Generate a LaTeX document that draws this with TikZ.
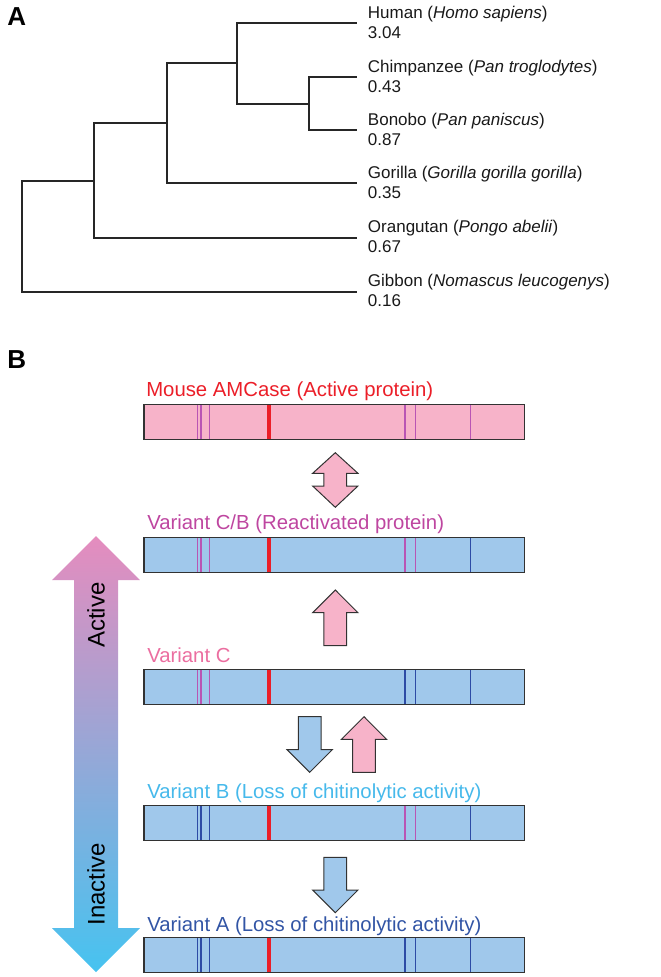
\documentclass[tikz,border=0pt]{standalone}
\usepackage{fontspec}
\setmainfont{Liberation Sans}
\usetikzlibrary{calc}
\definecolor{boxpink}{RGB}{247,179,201}
\definecolor{boxblue}{RGB}{160,200,235}
\definecolor{edge}{RGB}{50,50,50}
\definecolor{mkpurple}{RGB}{185,85,180}
\definecolor{mkblue}{RGB}{45,75,165}
\definecolor{mkred}{RGB}{235,30,40}
\definecolor{txtred}{RGB}{235,30,40}
\definecolor{txtcb}{RGB}{190,70,160}
\definecolor{txtc}{RGB}{235,110,160}
\definecolor{txtb}{RGB}{70,185,235}
\definecolor{txta}{RGB}{50,85,165}
\definecolor{gtop}{RGB}{229,140,190}
\definecolor{gmid}{RGB}{178,170,214}
\definecolor{gbot}{RGB}{70,195,240}
\newcommand\bandmarks[4]{%
  \foreach \p in {53.7,56.9,65.3}{\draw[mk,#2] ($(#1.north west)+(\p,0.6)$) -- ($(#1.south west)+(\p,-0.6)$);}
  \draw[mk,mkred,line width=3pt] ($(#1.north west)+(125,0.6)$) -- ($(#1.south west)+(125,-0.6)$);
  \foreach \p in {261,271.7}{\draw[mk,#3] ($(#1.north west)+(\p,0.6)$) -- ($(#1.south west)+(\p,-0.6)$);}
  \draw[mk,#4] ($(#1.north west)+(326.7,0.6)$) -- ($(#1.south west)+(326.7,-0.6)$);}
\newcommand\uparr[4]{\draw[#4] (#1,#2) -- ++(22.65,22.7) -- ++(-11.3,0) -- ++(0,#3-22.7) -- ++(-22.7,0) -- ++(0,-#3+22.7) -- ++(-11.3,0) -- cycle;}
\newcommand\downarr[4]{\draw[#4] (#1,#2) -- ++(22.65,-22.7) -- ++(-11.3,0) -- ++(0,-#3+22.7) -- ++(-22.7,0) -- ++(0,#3-22.7) -- ++(-11.3,0) -- cycle;}
\begin{document}
\begin{tikzpicture}[x=0.75pt,y=-0.75pt,
  tree/.style={line width=1.4pt,draw=black!85,line join=miter},
  leaf/.style={anchor=west,inner sep=0pt,align=left,font=\fontsize{12.75}{15}\selectfont,text=black!90},
  band/.style={draw=edge,line width=1pt,anchor=north west,minimum width=285.2pt,minimum height=26.25pt,inner sep=0pt,outer sep=0pt},
  mk/.style={line width=0.95pt},
  vlabel/.style={anchor=base west,inner sep=0pt,font=\fontsize{15.25}{18}\selectfont},
  parr/.style={fill=boxpink,draw=edge,line width=0.75pt,line join=miter},
  barr/.style={fill=boxblue,draw=edge,line width=0.75pt,line join=miter},
  panel/.style={anchor=north west,inner sep=0pt,font=\bfseries\fontsize{19.5}{20}\selectfont}]
\useasboundingbox (0,0) rectangle (660,977);
% ---------------- Panel A: tree
\node[panel] (labA) at (7,7) {A};
\coordinate (humE) at (356.7,23);
\coordinate (chiE) at (356.7,77);
\coordinate (bonE) at (356.7,130);
\coordinate (gorE) at (356.7,183.3);
\coordinate (oraE) at (356.7,237.7);
\coordinate (gibE) at (356.7,291.7);
\coordinate (n1) at (22.3,180.7);
\coordinate (n2) at (94.3,180.7);
\coordinate (n3) at (166.7,123);
\coordinate (n4) at (237,63);
\coordinate (n5) at (309,104);
\draw[tree] (n2) -- (n1) |- (gibE);
\draw[tree] (n3) -| (n2) |- (oraE);
\draw[tree] (n4) -| (n3) |- (gorE);
\draw[tree] (n5) -| (n4) |- (humE);
\draw[tree] (chiE) -| (n5) |- (bonE);
\node[leaf] (human) at ($(humE)+(11,-1)$) {Human (\textit{Homo sapiens})\\3.04};
\node[leaf] (chimp) at ($(chiE)+(11,-1)$) {Chimpanzee (\textit{Pan troglodytes})\\0.43};
\node[leaf] (bonobo) at ($(bonE)+(11,-1)$) {Bonobo (\textit{Pan paniscus})\\0.87};
\node[leaf] (gorilla) at ($(gorE)+(11,-1)$) {Gorilla (\textit{Gorilla gorilla gorilla})\\0.35};
\node[leaf] (orang) at ($(oraE)+(11,-1)$) {Orangutan (\textit{Pongo abelii})\\0.67};
\node[leaf] (gibbon) at ($(gibE)+(11,-1)$) {Gibbon (\textit{Nomascus leucogenys})\\0.16};
% ---------------- Panel B
\node[panel] (labB) at (7,350) {B};
% big gradient arrow
\shade[top color=gtop,middle color=gmid,bottom color=gbot]
  (96,536) -- (140,580) -- (118,580) -- (118,928) -- (140,928) -- (96,972)
  -- (52,928) -- (74,928) -- (74,580) -- (52,580) -- cycle;
\node[rotate=90,inner sep=0pt,font=\fontsize{18}{20}\selectfont] (active) at (96,615) {Active};
\node[rotate=90,inner sep=0pt,font=\fontsize{18}{20}\selectfont] (inactive) at (96,884) {Inactive};
% bands
\node[band,fill=boxpink] (mouse) at (144,404.3) {};
\node[band,fill=boxblue] (vcb) at (144,537.3) {};
\node[band,fill=boxblue] (vc) at (144,669.7) {};
\node[band,fill=boxblue] (vb) at (144,805.7) {};
\node[band,fill=boxblue] (va) at (144,937.7) {};
\bandmarks{mouse}{mkpurple}{mkpurple}{mkpurple}
\bandmarks{vcb}{mkpurple}{mkpurple}{mkblue}
\bandmarks{vc}{mkpurple}{mkblue}{mkblue}
\bandmarks{vb}{mkblue}{mkpurple}{mkblue}
\bandmarks{va}{mkblue}{mkblue}{mkblue}
% labels
\node[vlabel,text=txtred] (lmouse) at ($(mouse.north west)+(2,-7.5)$) {Mouse AMCase (Active protein)};
\node[vlabel,text=txtcb] (lvcb) at ($(vcb.north west)+(3,-8)$) {Variant C/B (Reactivated protein)};
\node[vlabel,text=txtc] (lvc) at ($(vc.north west)+(3,-7)$) {Variant C};
\node[vlabel,text=txtb] (lvb) at ($(vb.north west)+(3,-7)$) {Variant B (Loss of chitinolytic activity)};
\node[vlabel,text=txta] (lva) at ($(va.north west)+(3,-6)$) {Variant A (Loss of chitinolytic activity)};
% block arrows
\draw[parr] (335.3,452.7) -- ++(22.65,20.6) -- ++(-11.3,0) -- ++(0,12.7) -- ++(11.3,0)
  -- ++(-22.65,21.3) -- ++(-22.65,-21.3) -- ++(11.3,0) -- ++(0,-12.7) -- ++(-11.3,0) -- cycle;
\uparr{335.3}{590}{55.7}{parr}
\downarr{309.7}{772.3}{55.6}{barr}
\uparr{364}{716.7}{55.6}{parr}
\downarr{335.3}{912.7}{55.4}{barr}
\end{tikzpicture}
\end{document}
